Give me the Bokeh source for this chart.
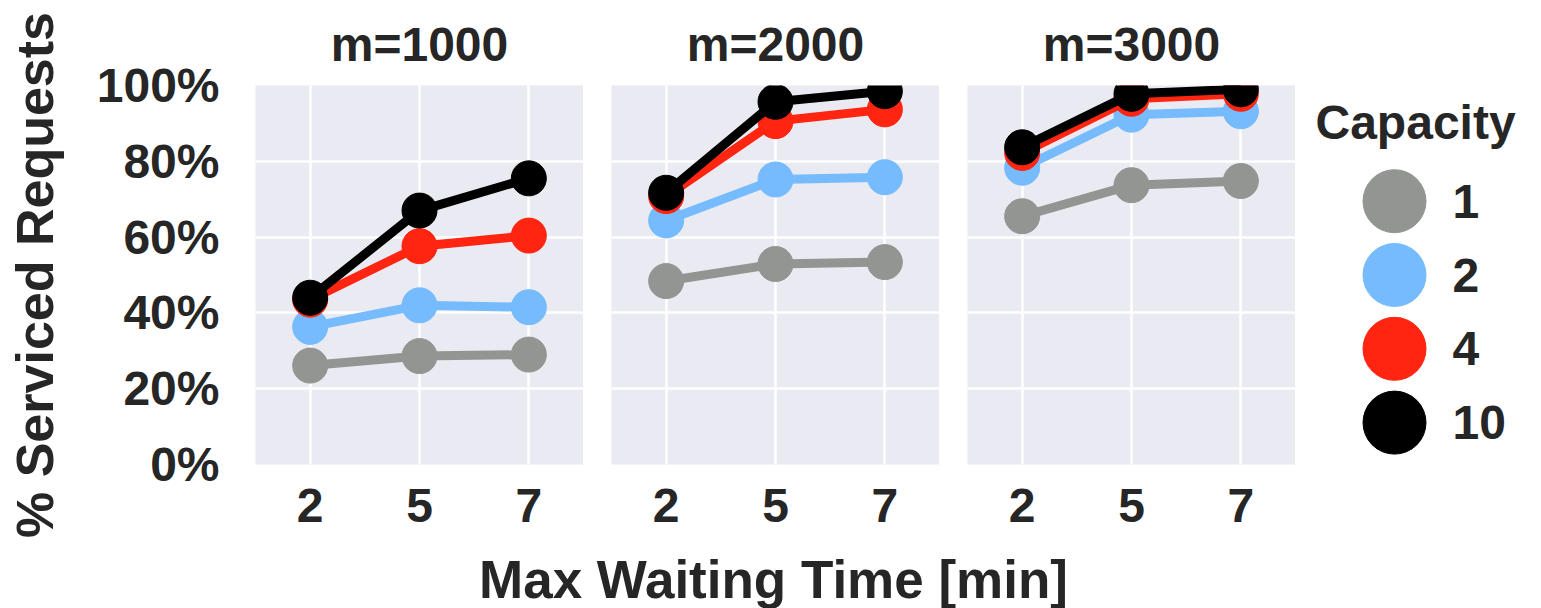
from bokeh.plotting import figure
from bokeh.layouts import row, column
from bokeh.models import FactorRange, Range1d, FixedTicker, PrintfTickFormatter, ColumnDataSource
from bokeh.core.properties import value
from bokeh.embed import file_html
from bokeh.resources import INLINE

# ---- data ----
waits = ["2", "5", "7"]
capacities = ["1", "2", "4", "10"]
panel_titles = ["m=1000", "m=2000", "m=3000"]
colors = ["#929591", "#75bbfd", "#ff2510", "#000000"]
x_label = "Max Waiting Time [min]"
y_label = "% Serviced Requests"
legend_title = "Capacity"

# % serviced requests, per capacity, per wait time
m1000_cap1 = [26.1, 28.6, 29.0]
m1000_cap2 = [36.3, 42.0, 41.5]
m1000_cap4 = [43.5, 57.6, 60.4]
m1000_cap10 = [44.0, 67.0, 75.5]

m2000_cap1 = [48.4, 52.9, 53.4]
m2000_cap2 = [64.4, 75.2, 75.8]
m2000_cap4 = [70.8, 90.6, 93.7]
m2000_cap10 = [71.7, 95.7, 98.5]

m3000_cap1 = [65.5, 73.7, 74.8]
m3000_cap2 = [78.3, 92.3, 93.2]
m3000_cap4 = [82.2, 96.5, 97.8]
m3000_cap10 = [83.7, 97.8, 99.0]

panels_data = [
    [m1000_cap1, m1000_cap2, m1000_cap4, m1000_cap10],
    [m2000_cap1, m2000_cap2, m2000_cap4, m2000_cap10],
    [m3000_cap1, m3000_cap2, m3000_cap4, m3000_cap10],
]
y_ticks = [0, 20, 40, 60, 80, 100]

FONT = "Liberation Sans"
FS = "48px"
TXT = "#262626"
PH = 545          # panel height
FTOP, FBOT = 84, 464


def make_panel(idx, series):
    first = idx == 0
    width = 583 if first else 356
    p = figure(
        width=width, height=PH,
        x_range=FactorRange(*waits), y_range=Range1d(0, 100),
        output_backend="svg", toolbar_location=None,
        y_axis_location="left" if first else None,
        min_border_left=255 if first else 28, min_border_right=0,
        min_border_top=FTOP, min_border_bottom=PH - FBOT,
        background_fill_color="#eaeaf2", border_fill_color="white",
        outline_line_color=None, title=panel_titles[idx],
    )
    p.title.align = "center"
    p.title.text_font = FONT
    p.title.text_font_size = FS
    p.title.text_font_style = "bold"
    p.title.text_color = TXT
    p.title.standoff = 30

    p.xgrid.grid_line_color = "white"
    p.xgrid.grid_line_width = 2.5
    p.ygrid.ticker = FixedTicker(ticks=y_ticks)
    p.ygrid.grid_line_color = "white"
    p.ygrid.grid_line_width = 2.5

    for ax in p.axis:
        ax.major_tick_line_color = None
        ax.minor_tick_line_color = None
        ax.axis_line_color = None
        ax.major_label_text_font = FONT
        ax.major_label_text_font_size = FS
        ax.major_label_text_font_style = "bold"
        ax.major_label_text_color = TXT
        ax.axis_label_text_font = FONT
        ax.axis_label_text_font_size = "52px"
        ax.axis_label_text_font_style = "bold"
        ax.axis_label_text_color = TXT

    p.xaxis.major_label_standoff = 18

    if first:
        p.yaxis.ticker = FixedTicker(ticks=y_ticks)
        p.yaxis.formatter = PrintfTickFormatter(format="%d%%")
        p.yaxis.major_label_standoff = 30
        p.yaxis.axis_label = y_label
        p.yaxis.axis_label_standoff = 30

    for vals, col in zip(series, colors):
        src = ColumnDataSource(dict(x=waits, y=vals))
        p.line("x", "y", source=src, line_color=col, line_width=9)
        p.scatter("x", "y", source=src, size=35, fill_color=col, line_color=col)
    return p


panels = [make_panel(i, s) for i, s in enumerate(panels_data)]

# ---- legend panel (pixel coordinates) ----
LW = 244
leg = figure(width=LW, height=PH, x_range=Range1d(0, LW), y_range=Range1d(FBOT, FTOP),
             output_backend="svg", toolbar_location=None,
             min_border_left=0, min_border_right=0,
             min_border_top=FTOP, min_border_bottom=PH - FBOT,
             outline_line_color=None,
             x_axis_location=None, y_axis_location=None,
             background_fill_color="white", border_fill_color="white")
leg.grid.visible = False
leg_y = [200 + 74 * i for i in range(len(capacities))]
lsrc = ColumnDataSource(dict(
    x=[99] * len(capacities), tx=[157] * len(capacities),
    y=leg_y, label=capacities, color=colors))
leg.scatter("x", "y", source=lsrc, size=63, fill_color="color", line_color="color")
leg.text("tx", "y", text="label", source=lsrc, text_font=value(FONT),
         text_font_size=FS, text_font_style="bold", text_color=TXT,
         text_baseline="middle", text_align="left")
leg.text(x=[20], y=[121], text=[legend_title], text_font=value(FONT),
         text_font_size=FS, text_font_style="bold", text_color=TXT,
         text_baseline="middle", text_align="left")

# ---- shared x-axis label strip ----
TW = 1539
LH = 608 - PH
xl = figure(width=TW, height=LH, x_range=Range1d(0, TW), y_range=Range1d(608, PH),
            output_backend="svg", toolbar_location=None, min_border=0,
            outline_line_color=None, x_axis_location=None, y_axis_location=None,
            background_fill_color="white", border_fill_color="white")
xl.grid.visible = False
xl.text(x=[773], y=[579], text=[x_label], text_font=value(FONT),
        text_font_size="53px", text_font_style="bold", text_color=TXT,
        text_baseline="middle", text_align="center")

layout = column(row(*panels, leg), xl)
open("out.html", "w").write(file_html(layout, INLINE))
